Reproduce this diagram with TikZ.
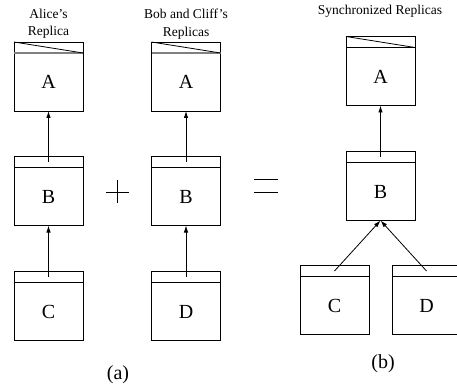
\documentclass[tikz,border=0pt]{standalone}
\usepackage{fontspec}
\setmainfont{Liberation Serif}
\usetikzlibrary{positioning,arrows.meta}

\tikzset{
  replica/.style={draw, line width=0.8pt, outer sep=0pt, inner sep=0pt,
    minimum width=69pt, minimum height=58pt, font=\fontsize{20}{24}\selectfont},
  hdr/.style={draw, line width=0.8pt, outer sep=0pt, inner sep=0pt,
    minimum width=69pt, minimum height=11pt},
  caption/.style={align=center, font=\fontsize{13.5}{17.5}\selectfont},
  link/.style={line width=0.8pt, -{Latex[length=7pt,width=4.5pt]}}
}

\begin{document}
\begin{tikzpicture}[x=1pt,y=-1pt]
\useasboundingbox (0,0) rectangle (457,387);

% (a) Alice's replica
\node[caption] (alice) at (48.5,24) {Alice's\\Replica};
\node[replica] (a1) at (48.5,82) {A};
\node[hdr, above=0pt of a1] (a1h) {};
\node[replica] (b1) at (48.5,196.5) {B};
\node[hdr, above=0pt of b1] (b1h) {};
\node[replica] (c1) at (48.5,311.5) {C};
\node[hdr, above=0pt of c1] (c1h) {};

% (a) Bob and Cliff's replicas
\node[caption] (bob) at (186,24) {Bob and Cliff's\\Replicas};
\node[replica] (a2) at (186,82) {A};
\node[hdr, above=0pt of a2] (a2h) {};
\node[replica] (b2) at (186,196.5) {B};
\node[hdr, above=0pt of b2] (b2h) {};
\node[replica] (d2) at (186,311.5) {D};
\node[hdr, above=0pt of d2] (d2h) {};

% (b) synchronized
\node[caption] (sync) at (380,11) {Synchronized Replicas};
\node[replica] (a3) at (380.5,76.5) {A};
\node[hdr, above=0pt of a3] (a3h) {};
\node[replica] (b3) at (380.5,191.5) {B};
\node[hdr, above=0pt of b3] (b3h) {};
\node[replica] (c3) at (334.5,305.5) {C};
\node[hdr, above=0pt of c3] (c3h) {};
\node[replica] (d3) at (426.5,305.5) {D};
\node[hdr, above=0pt of d3] (d3h) {};

% header marks
\draw[gray, line width=1.3pt] (a1h.south west) -- (a1h.south east);
\draw[gray, line width=1.3pt] (a2h.south west) -- (a2h.south east);
\draw[line width=0.8pt] (a1h.north west) -- (a1h.south east);
\draw[line width=0.8pt] (a2h.north west) -- (a2h.south east);
\draw[line width=0.8pt] (a3h.north west) -- (a3h.south east);

\draw[link] (b1h.center) -- (a1.south);
\draw[link] (c1h.center) -- (b1.south);
\draw[link] (b2h.center) -- (a2.south);
\draw[link] (d2h.center) -- (b2.south);
\draw[link] (b3h.center) -- (a3.south);
\draw[link] (c3h.center) -- (b3.south);
\draw[link] (d3h.center) -- (b3.south);

% plus and equals
\draw[line width=0.8pt] (106,192) -- (129,192) (117.5,180) -- (117.5,203);
\draw[line width=0.8pt] (254,179) -- (278,179) (254,192) -- (278,192);

\node[font=\fontsize{20}{24}\selectfont] (capa) at (118,375) {(a)};
\node[font=\fontsize{20}{24}\selectfont] (capb) at (383,364) {(b)};
\end{tikzpicture}
\end{document}
